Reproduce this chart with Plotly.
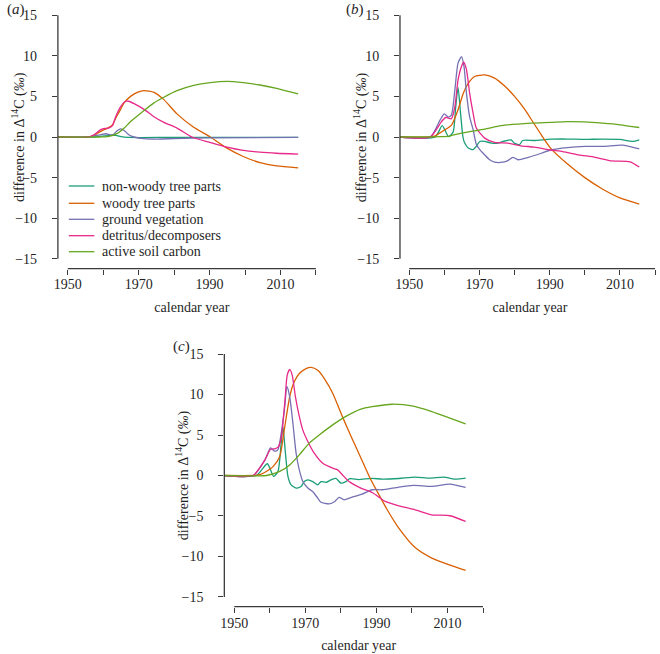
import plotly.graph_objects as go

# ---------------- data ----------------
series_names = ["non-woody tree parts", "woody tree parts", "ground vegetation",
                "detritus/decomposers", "active soil carbon"]
series_colors = ["#1b9e77", "#d95f02", "#7570b3", "#e7298a", "#66a61e"]

x_major_ticks = [1950, 1970, 1990, 2010]
x_minor_ticks = [1960, 1980, 2000, 2020]
x_axis_span = [1950, 2020]
y_tick_vals = [-15, -10, -5, 0, 5, 10, 15]

# panel (a)
a_nonwoody_yr = [1947, 1957, 1960.3, 1963.5, 1965, 1967, 1980, 2015]
a_nonwoody_val = [0, 0, 0.15, 0.2, 0.05, -0.05, -0.05, -0.05]
a_woody_yr = [1947, 1956, 1957.5, 1959.3, 1961.2, 1962.6, 1963.5, 1964.5, 1965.9, 1967.7, 1969.6,
              1971.5, 1974.3, 1977.1, 1980.8, 1985.5, 1990.2, 1994.9, 1999.5, 2004.2, 2008.9, 2015]
a_woody_val = [0, 0, 0.25, 0.7, 1.1, 1.5, 2.3, 3.1, 4.2, 5.0, 5.5,
               5.72, 5.5, 4.6, 2.85, 1.2, 0, -1.37, -2.4, -3.15, -3.55, -3.8]
a_ground_yr = [1947, 1956, 1958.9, 1960.7, 1962.6, 1964, 1964.9, 1965.9, 1967.3, 1968.7, 1971.5,
               1975.2, 1980, 1990, 2015]
a_ground_val = [0, 0, 0.25, 0.4, 0.25, 0.8, 1.0, 0.8, 0.25, 0, -0.2, -0.25, -0.2, -0.1, -0.05]
a_detritus_yr = [1947, 1956, 1957.5, 1959.3, 1960.5, 1961.5, 1962.6, 1963.5, 1964.9, 1966.3, 1967.2,
                 1968.7, 1971.5, 1974.3, 1977.1, 1980.8, 1985, 1990.2, 1994.9, 1999.5, 2004.2,
                 2008.9, 2015]
a_detritus_val = [0, 0, 0.3, 0.9, 1.05, 1.1, 1.4, 2.5, 3.75, 4.4, 4.4,
                  4.1, 3.4, 2.5, 1.8, 1.1, 0, -0.68, -1.25, -1.65, -1.87, -2.0, -2.1]
a_soil_yr = [1947, 1959, 1961.2, 1964, 1965.9, 1967.7, 1970.5, 1974.3, 1977.1, 1980.8, 1985.5,
             1990.2, 1994.9, 1999.5, 2004.2, 2008.9, 2015]
a_soil_val = [0, 0, 0.05, 0.45, 1.1, 1.9, 2.9, 4.2, 4.9, 5.7, 6.35,
              6.7, 6.85, 6.7, 6.4, 6.0, 5.3]

# panel (b)
b_nonwoody_yr = [1947, 1957.4, 1959.4, 1961.2, 1962.5, 1963.2, 1963.9, 1964.6, 1965.3, 1965.8,
                 1966.8, 1968.2, 1969.1, 1970.1, 1971.5, 1973.4, 1975.3, 1976.7, 1979, 1979.9,
                 1981.4, 1982.3, 1985.6, 1990.3, 1995, 2000, 2005, 2010, 2013.6, 2015.5]
b_nonwoody_val = [0, 0, 1.4, 0.05, 0.6, 3.5, 6.1, 3.0, 0, -0.75,
                  -1.35, -1.55, -1.15, -0.55, -0.55, -0.75, -0.75, -0.55, -0.35, -0.75,
                  -0.95, -0.43, -0.43, -0.27, -0.25, -0.3, -0.25, -0.3, -0.55, -0.35]
b_woody_yr = [1947, 1955.5, 1957.4, 1960.2, 1962.1, 1963.9, 1965.4, 1966.8, 1968.6, 1971.5,
              1974.3, 1977.1, 1980, 1982.8, 1985, 1987.7, 1990.3, 1995, 2000, 2005, 2010, 2015.5]
b_woody_val = [0, 0, 0.15, 0.9, 1.5, 3.35, 5.4, 6.6, 7.45, 7.65,
               7.25, 6.3, 5.0, 3.45, 2.0, 0.2, -1.4, -3.3, -5.0, -6.4, -7.5, -8.25]
b_ground_yr = [1947, 1956, 1958.8, 1960, 1961.1, 1962, 1963, 1963.9, 1964.9, 1965.6, 1966.3,
               1967.2, 1968.2, 1969.1, 1970.1, 1971.5, 1972.9, 1974.3, 1976.7, 1978.1, 1979.5,
               1981, 1983.9, 1987.6, 1990.3, 1995, 2000, 2005.4, 2010.6, 2015.5]
b_ground_val = [0, 0, 2.1, 2.85, 2.45, 2.7, 5.8, 9.1, 9.9, 8.7, 5.4,
                2.5, 0.9, -0.9, -1.55, -2.2, -2.8, -3.1, -3.1, -2.9, -2.5,
                -2.8, -2.5, -2.0, -1.6, -1.3, -1.15, -1.15, -1.0, -1.45]
b_detritus_yr = [1947, 1956, 1959.2, 1960.4, 1962, 1963, 1963.9, 1964.9, 1965.5, 1966.3, 1967.2,
                 1968.2, 1969.1, 1971.5, 1974.3, 1978.1, 1981.8, 1985.6, 1990.3, 1993.7, 1998.3,
                 2003, 2007.7, 2012.9, 2015.5]
b_detritus_val = [0, 0, 1.9, 2.4, 2.25, 3.75, 7.0, 8.7, 9.2, 8.3, 5.4,
                  2.9, 1.1, -0.14, -0.67, -0.75, -1.08, -1.25, -1.6, -1.8, -2.2,
                  -2.5, -2.95, -3.05, -3.7]
b_soil_yr = [1947, 1959.2, 1961.5, 1964.9, 1971.5, 1976.2, 1984.7, 1990.3, 1995, 2000, 2005,
             2010, 2015.5]
b_soil_val = [0, 0.05, 0.12, 0.48, 0.97, 1.4, 1.7, 1.8, 1.9, 1.85, 1.7, 1.5, 1.17]

# panel (c)
c_nonwoody_yr = [1947, 1956.2, 1959.3, 1961.1, 1962.3, 1963.2, 1963.7, 1964.4, 1965.1, 1966,
                 1967.4, 1968.8, 1969.7, 1970.7, 1972.1, 1973.5, 1974.4, 1975.8, 1977.2, 1978.6,
                 1980, 1981.4, 1982.5, 1985, 1988.8, 1991.6, 1996.3, 2000.9, 2005, 2008.9,
                 2012.1, 2015.1]
c_nonwoody_val = [0, 0, 1.45, -0.1, 0.5, 4.0, 6.05, 2.75, -0.1, -1.15,
                  -1.55, -1.35, -0.75, -0.55, -0.75, -1.15, -0.75, -0.85, -0.55, -0.35,
                  -0.95, -0.75, -0.4, -0.5, -0.35, -0.45, -0.37, -0.2, -0.33, -0.2,
                  -0.45, -0.33]
c_woody_yr = [1947, 1955.5, 1957.2, 1959, 1960.9, 1962.8, 1964.2, 1965.6, 1966.9, 1968.3, 1970.2,
              1971.6, 1973.5, 1975.3, 1977.7, 1980.4, 1983.2, 1985.6, 1988.3, 1990.5, 1993,
              1996.3, 2000.9, 2005.6, 2010.3, 2015.1]
c_woody_val = [0, 0, 0.1, 0.5, 1.1, 2.35, 6.0, 9.75, 11.6, 12.6, 13.2,
               13.35, 13.0, 12.0, 10.15, 7.3, 4.5, 2.2, -0.4, -2.2, -4.2,
               -6.5, -8.9, -10.2, -11.0, -11.7]
c_ground_yr = [1947, 1955.3, 1958.6, 1960.2, 1961.4, 1962.3, 1963.2, 1964.2, 1964.8, 1965.6,
               1966.5, 1967.4, 1968.3, 1969.3, 1970.7, 1972.1, 1973.5, 1974.4, 1976.7, 1978.3,
               1979.5, 1980.9, 1983, 1986, 1988.8, 1991.6, 1996.3, 2000.4, 2005.6, 2010.7,
               2015.1]
c_ground_val = [0, 0, 1.9, 3.4, 3.0, 3.2, 5.2, 8.5, 11.0, 9.7,
                6.45, 2.75, 0.7, -0.75, -1.55, -2.0, -2.8, -3.3, -3.5, -3.2,
                -2.7, -3.0, -2.7, -2.3, -1.76, -1.76, -1.43, -1.23, -1.35, -1.07,
                -1.48]
c_detritus_yr = [1947, 1955.3, 1958.6, 1960.2, 1961.4, 1962.3, 1963.2, 1964.2, 1964.9, 1965.6,
                 1966.3, 1967.2, 1968.3, 1969.3, 1970.7, 1972.5, 1974.9, 1977.7, 1979.1, 1980.4,
                 1982.3, 1985.6, 1988.8, 1992.5, 1996.3, 2000.9, 2005.6, 2010.7, 2015.1]
c_detritus_val = [0, 0, 1.9, 3.25, 3.3, 3.5, 4.6, 8.9, 12.4, 13.1,
                  12.4, 9.75, 7.3, 5.6, 4.2, 2.75, 1.5, 0.9, 0.7, 0.1,
                  -0.75, -1.55, -2.1, -3.2, -3.74, -4.23, -4.85, -4.97, -5.67]
c_soil_yr = [1947, 1959, 1962.8, 1965.6, 1968.3, 1971.1, 1973.9, 1977.7, 1981.4, 1985.6, 1988.8,
             1994.4, 2000, 2005.6, 2010.3, 2015.1]
c_soil_val = [0, 0, 0.5, 1.3, 2.55, 4.0, 5.0, 6.25, 7.3, 8.2, 8.5,
              8.8, 8.6, 7.9, 7.15, 6.37]

panels = [
    ("x", "y", [(a_nonwoody_yr, a_nonwoody_val), (a_woody_yr, a_woody_val),
                (a_ground_yr, a_ground_val), (a_detritus_yr, a_detritus_val),
                (a_soil_yr, a_soil_val)]),
    ("x2", "y2", [(b_nonwoody_yr, b_nonwoody_val), (b_woody_yr, b_woody_val),
                  (b_ground_yr, b_ground_val), (b_detritus_yr, b_detritus_val),
                  (b_soil_yr, b_soil_val)]),
    ("x3", "y3", [(c_nonwoody_yr, c_nonwoody_val), (c_woody_yr, c_woody_val),
                  (c_ground_yr, c_ground_val), (c_detritus_yr, c_detritus_val),
                  (c_soil_yr, c_soil_val)]),
]

# ---------------- figure ----------------
W, H = 660, 654
FONT = "'Liberation Serif', 'Times New Roman', Times, serif"
FS = 14
TXT = "#1f1f1f"
AXC = "#3a3a3a"

fig = go.Figure()
for xa, ya, data in panels:
    for i, (yr, val) in enumerate(data):
        fig.add_trace(go.Scatter(
            x=yr, y=val, mode="lines", name=series_names[i],
            line=dict(color=series_colors[i], width=1.3, shape="spline", smoothing=0.6),
            xaxis=xa, yaxis=ya, showlegend=False, cliponaxis=True))

def px_x(p):
    return p / W

def px_y(p):
    return 1 - p / H

ytitle = "difference in Δ<sup>14</sup>C (<i>‰</i>)"

def xaxis_cfg(dom, rng, anchor):
    return dict(domain=dom, range=rng, anchor=anchor, showline=False, showgrid=False,
                zeroline=False, ticks="outside", ticklen=5, tickwidth=1.2, tickcolor=AXC,
                tickmode="array", tickvals=x_major_ticks, ticklabelstandoff=-2,
                minor=dict(tickmode="array", tickvals=x_minor_ticks, ticks="outside",
                           ticklen=5, tickwidth=1.2, tickcolor=AXC, showgrid=False),
                tickfont=dict(family=FONT, size=FS, color=TXT),
                title=dict(text="calendar year", font=dict(family=FONT, size=FS, color=TXT),
                           standoff=10))

def yaxis_cfg(dom, anchor):
    return dict(domain=dom, range=[-16.2, 16.2], anchor=anchor, showline=False, showgrid=False,
                zeroline=False, ticks="outside", ticklen=5, tickwidth=1.2, tickcolor=AXC,
                tickmode="array", tickvals=y_tick_vals, ticklabelstandoff=12,
                tickfont=dict(family=FONT, size=FS, color=TXT))

dom_a_x = [px_x(53.3), px_x(323.3)]
dom_b_x = [px_x(398.0), 1.0]
dom_c_x = [px_x(221.0), px_x(491.7)]
dom_ab_y = [px_y(268.6), px_y(5.4)]
dom_c_y = [px_y(606.7), px_y(344.3)]

fig.update_layout(
    width=W, height=H, autosize=False,
    margin=dict(l=0, r=0, t=0, b=0),
    paper_bgcolor="white", plot_bgcolor="white",
    font=dict(family=FONT, size=FS, color=TXT),
    showlegend=False,
    xaxis=xaxis_cfg(dom_a_x, [1947.2, 2022.8], "y"),
    yaxis=yaxis_cfg(dom_ab_y, "x"),
    xaxis2=xaxis_cfg(dom_b_x, [1950 - 9.3 / 3.539, 1950 + (660 - 407.3) / 3.539], "y2"),
    yaxis2=yaxis_cfg(dom_ab_y, "x2"),
    xaxis3=xaxis_cfg(dom_c_x, [1947.2, 2022.8], "y3"),
    yaxis3=yaxis_cfg(dom_c_y, "x3"),
)

# detached R-style axis lines spanning only the tick range
shapes = []
for xa, ya in [("x", "y"), ("x2", "y2"), ("x3", "y3")]:
    shapes.append(dict(type="line", xref=xa, yref=ya + " domain", x0=x_axis_span[0],
                       x1=x_axis_span[1], y0=0, y1=0, line=dict(color=AXC, width=1.3)))
    shapes.append(dict(type="line", xref=xa + " domain", yref=ya, x0=0, x1=0,
                       y0=y_tick_vals[0], y1=y_tick_vals[-1], line=dict(color=AXC, width=1.3)))

annotations = []
# y-axis titles (placed like the R figure, close to the tick labels)
for cx, dom in [(13, dom_ab_y), (358, dom_ab_y), (179, dom_c_y)]:
    annotations.append(dict(text=ytitle, xref="paper", yref="paper", x=px_x(cx),
                            y=(dom[0] + dom[1]) / 2, xanchor="center", yanchor="middle",
                            textangle=-90, showarrow=False,
                            font=dict(family=FONT, size=FS, color=TXT)))

# legend (panel a)
leg_y = [186, 203.3, 219.3, 235.7, 251.7]
for i, name in enumerate(series_names):
    shapes.append(dict(type="line", xref="paper", yref="paper", x0=px_x(64.3), x1=px_x(90),
                       y0=px_y(leg_y[i]), y1=px_y(leg_y[i]),
                       line=dict(color=series_colors[i], width=1.3)))
    annotations.append(dict(text=name, xref="paper", yref="paper", x=px_x(96),
                            y=px_y(leg_y[i]), xanchor="left", yanchor="middle",
                            showarrow=False, font=dict(family=FONT, size=FS, color=TXT)))

# panel labels
for lab, cx, cy in [("a", 11, 10), ("b", 352.5, 10), ("c", 177.5, 346)]:
    annotations.append(dict(text="(<i>%s</i>)" % lab, xref="paper", yref="paper",
                            x=px_x(cx), y=px_y(cy), xanchor="center", yanchor="middle",
                            showarrow=False, font=dict(family=FONT, size=15, color=TXT)))

fig.update_layout(shapes=shapes, annotations=annotations)
fig.write_html("out.html", config={"displayModeBar": False},
               post_script="document.body.style.margin='0px';document.body.style.overflow='hidden';")
